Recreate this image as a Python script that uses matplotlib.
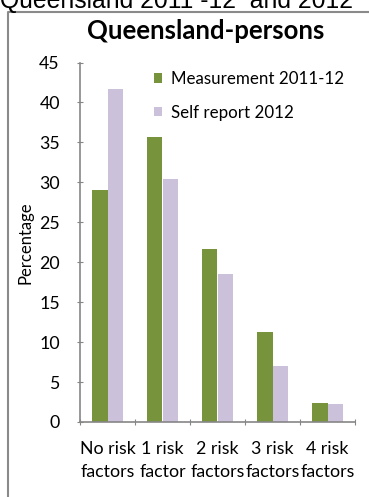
import numpy as np
import matplotlib.pyplot as plt
from matplotlib.lines import Line2D

plt.rcParams['font.family'] = ['Lato', 'DejaVu Sans']

categories = ['No risk\nfactors', '1 risk\nfactor', '2 risk\nfactors', '3 risk\nfactors', '4 risk\nfactors']
measurement = [29.0, 35.7, 21.7, 11.3, 2.4]
self_report = [41.7, 30.4, 18.5, 7.0, 2.2]
yticks = [0, 5, 10, 15, 20, 25, 30, 35, 40, 45]

green = '#77933C'
lilac = '#CCC1DA'
axis_grey = '#868686'

W, H = 369, 497
fig = plt.figure(figsize=(W / 100, H / 100), dpi=100)
ax = fig.add_axes([80 / W, 75 / H, 275 / W, 359.5 / H])

x = np.arange(len(categories))
bw = 0.285
ax.bar(x - bw / 2, measurement, bw, color=green, label='Measurement 2011-12')
ax.bar(x + bw / 2, self_report, bw, color=lilac, label='Self report 2012')

ax.set_xlim(-0.5, len(categories) - 0.5)
ax.set_ylim(0, 45)
ax.set_yticks(yticks)
ax.set_xticks(np.arange(len(categories) + 1) - 0.5, minor=False)
ax.set_xticklabels([])
ax.set_xticks(x, minor=True)
ax.set_xticklabels(categories, minor=True, fontsize=12.8, linespacing=1.5)
ax.tick_params(axis='x', which='minor', length=0, pad=14)
ax.tick_params(axis='x', which='major', length=5, direction='inout', color=axis_grey)
ax.tick_params(axis='y', length=5, direction='inout', color=axis_grey, labelsize=12.8, pad=12)

for s in ['top', 'right']:
    ax.spines[s].set_visible(False)
for s in ['left', 'bottom']:
    ax.spines[s].set_color(axis_grey)
    ax.spines[s].set_linewidth(1.2)

ax.set_ylabel('Percentage', fontsize=12, labelpad=4)

ax.legend(loc='upper right', bbox_to_anchor=(1.005, 1.01), frameon=False, fontsize=12.2,
          handlelength=0.5, handleheight=0.5, handletextpad=0.55, labelspacing=1.05,
          borderaxespad=0.3)

fig.text(206 / W, 1 - 31 / H, 'Queensland-persons', ha='center', va='center',
         fontsize=18.5, fontweight='bold')

# heading of the page, partly cut off by the top edge
fig.text(176 / W, 1 - 8 / H, 'Queensland 2011 -12  and 2012', ha='center', va='baseline',
         fontsize=17.8, family='Liberation Sans')

# chart frame
fig.add_artist(Line2D([8 / W, 8 / W, 1], [0, 1 - 12 / H, 1 - 12 / H],
                      transform=fig.transFigure, color='#8a8a8a', lw=1.5))

fig.savefig('out.png', dpi=100)
